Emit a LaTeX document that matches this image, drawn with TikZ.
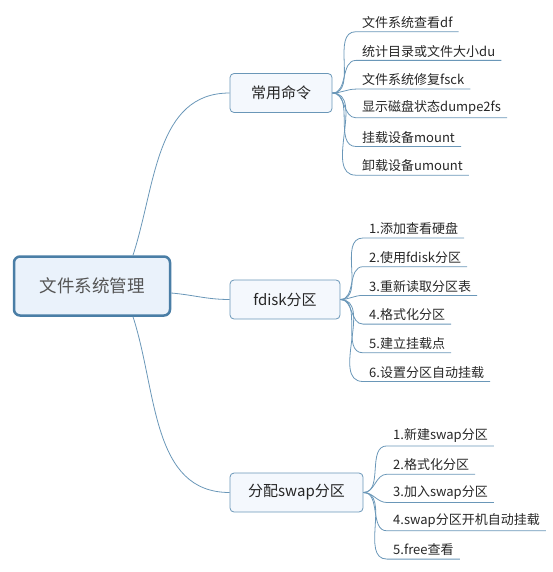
\documentclass[tikz,border=0pt]{standalone}
\usepackage{fontspec}
\setmainfont{Noto Sans CJK SC}
\usepackage{xcolor}
\usetikzlibrary{positioning}
\definecolor{linkblue}{HTML}{6A97B8}
\definecolor{rootline}{HTML}{4A7EA6}
\definecolor{rootfill}{HTML}{EAF2FB}
\definecolor{topicfill}{HTML}{F4F8FD}
\definecolor{textgray}{HTML}{555555}

\tikzset{
  rootbox/.style={draw=rootline, line width=2.5pt, fill=rootfill, rounded corners=6pt,
    minimum width=156pt, minimum height=59pt, text=textgray,
    font=\fontsize{17.5}{20}\selectfont},
  topicbox/.style={draw=linkblue, line width=0.8pt, fill=topicfill, rounded corners=4pt,
    minimum height=39pt, text=black!85, font=\fontsize{15}{17}\selectfont},
  leaf/.style={anchor=south west, inner xsep=6pt, inner ysep=3pt, text=black!85,
    font=\fontsize{13}{15}\selectfont},
  link/.style={draw=linkblue, line width=0.8pt},
}

\begin{document}
\begin{tikzpicture}[x=1pt, y=-1pt]
    \useasboundingbox (0,0) rectangle (553,572);

    % main topic and branches
    \node[rootbox] (root) at (92,286) {文件系统管理};
    \node[topicbox, minimum width=102pt] (cmd) at (281,93) {常用命令};
    \node[topicbox, minimum width=110pt] (fdisk) at (285,299.5) {fdisk分区};
    \node[topicbox, minimum width=133pt] (swap) at (296.5,492.5) {分配swap分区};

    \draw[link] ([xshift=41pt]root.north) to[out=72, in=180] (cmd.west);
    \draw[link] ([yshift=-7pt]root.east) to[out=-5, in=180] (fdisk.west);
    \draw[link] ([xshift=41pt]root.south) to[out=-72, in=180] (swap.west);

    % leaves
    \foreach \txt [count=\i] in {文件系统查看df, 统计目录或文件大小du, 文件系统修复fsck,
        显示磁盘状态dumpe2fs, 挂载设备mount, 卸载设备umount} {
      \node[leaf] (cmd-\i) at (356, 3+28.7*\i) {\txt};
      \draw[link] (cmd.east) to[out=0, in=180] (cmd-\i.south west) -- (cmd-\i.south east);
    }
    \foreach \txt [count=\i] in {1.添加查看硬盘, 2.使用fdisk分区, 3.重新读取分区表,
        4.格式化分区, 5.建立挂载点, 6.设置分区自动挂载} {
      \node[leaf] (fdisk-\i) at (363, 209.3+28.7*\i) {\txt};
      \draw[link] (fdisk.east) to[out=0, in=180] (fdisk-\i.south west) -- (fdisk-\i.south east);
    }
    \foreach \txt [count=\i] in {1.新建swap分区, 2.格式化分区, 3.加入swap分区,
        4.swap分区开机自动挂载, 5.free查看} {
      \node[leaf] (swap-\i) at (387, 417.6+28.3*\i) {\txt};
      \draw[link] (swap.east) to[out=0, in=180] (swap-\i.south west) -- (swap-\i.south east);
    }
\end{tikzpicture}
\end{document}
